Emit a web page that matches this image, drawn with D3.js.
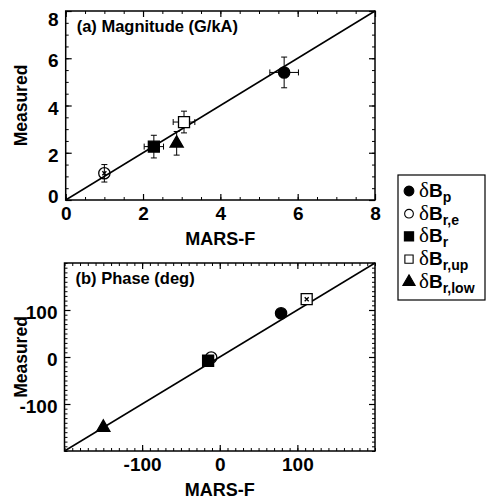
<!DOCTYPE html>
<html>
<head>
<meta charset="utf-8">
<script src="https://d3js.org/d3.v7.min.js"></script>
<style>
  body { margin: 0; background: #fff; }
  svg text { font-family: "Liberation Sans", Arial, Helvetica, sans-serif; font-weight: bold; fill: #000; }
</style>
</head>
<body>
<div id="grafico"></div>
<script>
// Series, same order in both panels and in the legend
const seriesSubs = ['p', 'r,e', 'r', 'r,up', 'r,low'];
const seriesShapes = ['circle', 'circle', 'square', 'square', 'triangle'];
const seriesFilled = [true, false, true, false, true];

// (a) Magnitude (G/kA)
const magMarsF = [5.65, 1.00, 2.28, 3.06, 2.87];
const magMeasured = [5.40, 1.13, 2.26, 3.30, 2.40];
const magMarsFErr = [0.37, 0.10, 0.25, 0.28, 0.08];
const magMeasuredErr = [0.65, 0.37, 0.48, 0.46, 0.50];
const magTicks = [0, 2, 4, 6, 8];

// (b) Phase (deg)
const phaseMarsF = [79, -11, -15, 112, -150];
const phaseMeasured = [93, -1, -8, 123, -150];
const phaseMarsFErr = [0, 0, 0, 4, 0];
const phaseMeasuredErr = [0, 0, 0, 4, 0];
const phaseTicks = [-100, 0, 100];

const svg = d3.select('#grafico').append('svg')
  .attr('width', 487)
  .attr('height', 501);

svg.append('rect').attr('width', 487).attr('height', 501).attr('fill', '#fff');

const symbolType = { circle: d3.symbolCircle, square: d3.symbolSquare, triangle: d3.symbolTriangle };
const symbolSize = { circle: 100, square: 121, triangle: 75 };

function panel(cfg) {
  const x = d3.scaleLinear().domain(cfg.domain).range([cfg.left, cfg.right]);
  const y = d3.scaleLinear().domain(cfg.domain).range([cfg.bottom, cfg.top]);
  const g = svg.append('g');
  const fmt = d => String(d);

  // ticks on all four sides, pointing inward; labels only bottom and left
  const sides = [
    [() => d3.axisBottom(x), 'translate(0,' + cfg.bottom + ')', 'x'],
    [() => d3.axisTop(x), 'translate(0,' + cfg.top + ')', null],
    [() => d3.axisLeft(y), 'translate(' + cfg.left + ',0)', 'y'],
    [() => d3.axisRight(y), 'translate(' + cfg.right + ',0)', null]
  ];
  sides.forEach(([mk, tr, lab]) => {
    g.append('g').attr('transform', tr)
      .call(mk().tickValues(cfg.minor).tickSize(-3).tickFormat(''))
      .call(a => a.select('.domain').remove());
    const major = g.append('g').attr('transform', tr)
      .call(mk().tickValues(cfg.ticks).tickSize(-6).tickPadding(lab ? 7 : 0).tickFormat(lab ? fmt : ''))
      .call(a => a.select('.domain').remove());
    major.selectAll('line').attr('stroke-width', 1.2);
    major.selectAll('text').attr('font-size', 19).attr('font-family', null);
    if (lab === 'y') {
      // keep end labels inside the frame height
      major.selectAll('.tick text')
        .attr('dy', null)
        .attr('dominant-baseline', 'central')
        .attr('y', d => Math.max(cfg.top + 8, Math.min(cfg.bottom - 4, y(d) + 2)) - y(d));
    }
  });
  g.selectAll('.tick line').attr('stroke', '#000');

  g.append('rect')
    .attr('x', cfg.left).attr('y', cfg.top)
    .attr('width', cfg.right - cfg.left).attr('height', cfg.bottom - cfg.top)
    .attr('fill', 'none').attr('stroke', '#000').attr('stroke-width', 1.5);

  // one-to-one line
  g.append('path')
    .datum(cfg.domain)
    .attr('d', d3.line().x(d => x(d)).y(d => y(d)))
    .attr('stroke', '#000').attr('stroke-width', 1.5).attr('fill', 'none');

  const pts = cfg.xs.map((v, i) => ({ x: v, y: cfg.ys[i], ex: cfg.exs[i], ey: cfg.eys[i], i }));

  // error bars with caps
  const eb = g.append('g').attr('stroke', '#000').attr('stroke-width', 1);
  pts.filter(p => x(p.x + p.ex) - x(p.x) >= 6).forEach(p => {
    eb.append('line').attr('x1', x(p.x - p.ex)).attr('x2', x(p.x + p.ex)).attr('y1', y(p.y)).attr('y2', y(p.y));
    [p.x - p.ex, p.x + p.ex].forEach(v => eb.append('line')
      .attr('x1', x(v)).attr('x2', x(v)).attr('y1', y(p.y) - 3).attr('y2', y(p.y) + 3));
  });
  pts.filter(p => y(p.y) - y(p.y + p.ey) >= 6).forEach(p => {
    eb.append('line').attr('x1', x(p.x)).attr('x2', x(p.x)).attr('y1', y(p.y - p.ey)).attr('y2', y(p.y + p.ey));
    [p.y - p.ey, p.y + p.ey].forEach(v => eb.append('line')
      .attr('y1', y(v)).attr('y2', y(v)).attr('x1', x(p.x) - 3).attr('x2', x(p.x) + 3));
  });

  g.selectAll('path.pt').data(pts).enter().append('path')
    .attr('class', 'pt')
    .attr('transform', p => 'translate(' + x(p.x) + ',' + y(p.y) + ')')
    .attr('d', p => d3.symbol(symbolType[seriesShapes[p.i]], symbolSize[seriesShapes[p.i]])())
    .attr('fill', p => seriesFilled[p.i] ? '#000' : (seriesShapes[p.i] === 'square' ? '#fff' : 'none'))
    .attr('stroke', '#000').attr('stroke-width', 1.3);

  // error bars smaller than the marker show as a small cross inside it
  pts.filter(p => p.ex > 0 && x(p.x + p.ex) - x(p.x) < 6).forEach(p => {
    const px = x(p.x), py = y(p.y);
    g.append('path')
      .attr('d', 'M' + (px - 2) + ',' + (py - 2) + 'L' + (px + 2) + ',' + (py + 2) +
        'M' + (px - 2) + ',' + (py + 2) + 'L' + (px + 2) + ',' + (py - 2))
      .attr('stroke', '#000').attr('stroke-width', 1.3);
  });

  g.append('text').attr('x', cfg.left + 11).attr('y', cfg.top + 21)
    .attr('font-size', 16.5).text(cfg.title);
  g.append('text').attr('x', (cfg.left + cfg.right) / 2).attr('y', cfg.bottom + 45)
    .attr('text-anchor', 'middle').attr('font-size', 18).text('MARS-F');
  g.append('text')
    .attr('transform', 'translate(27,' + (cfg.top + cfg.bottom) / 2 + ') rotate(-90)')
    .attr('text-anchor', 'middle').attr('font-size', 17.5).text('Measured');
}

panel({
  left: 65.7, right: 375, top: 11, bottom: 200,
  domain: [0, 8], ticks: magTicks, minor: d3.range(0, 8.01, 0.5),
  xs: magMarsF, ys: magMeasured, exs: magMarsFErr, eys: magMeasuredErr,
  title: '(a) Magnitude (G/kA)'
});

panel({
  left: 64.5, right: 375, top: 263, bottom: 451,
  domain: [-200, 200], ticks: phaseTicks, minor: d3.range(-200, 201, 10),
  xs: phaseMarsF, ys: phaseMeasured, exs: phaseMarsFErr, eys: phaseMeasuredErr,
  title: '(b) Phase (deg)'
});

// Legend
const leg = svg.append('g');
leg.append('rect').attr('x', 398).attr('y', 175).attr('width', 87).attr('height', 125)
  .attr('fill', '#fff').attr('stroke', '#000').attr('stroke-width', 1.2);
const legSize = { circle: 75, square: 85, triangle: 65 };
seriesSubs.forEach((s, i) => {
  const cy = 191 + i * 22.7;
  leg.append('path')
    .attr('transform', 'translate(409,' + cy + ')')
    .attr('d', d3.symbol(symbolType[seriesShapes[i]], legSize[seriesShapes[i]] * (seriesFilled[i] ? 1 : 0.8))())
    .attr('fill', seriesFilled[i] ? '#000' : 'none')
    .attr('stroke', '#000').attr('stroke-width', 1.1);
  const t = leg.append('text').attr('x', 419).attr('y', cy + 6).attr('font-size', 19);
  t.append('tspan').attr('font-family', '"Liberation Serif", "DejaVu Serif", serif')
    .attr('font-weight', 'normal').attr('font-size', 21).text('δ');
  t.append('tspan').text('B');
  t.append('tspan').attr('font-size', 14).attr('dy', 5).text(s);
});
</script>
</body>
</html>
